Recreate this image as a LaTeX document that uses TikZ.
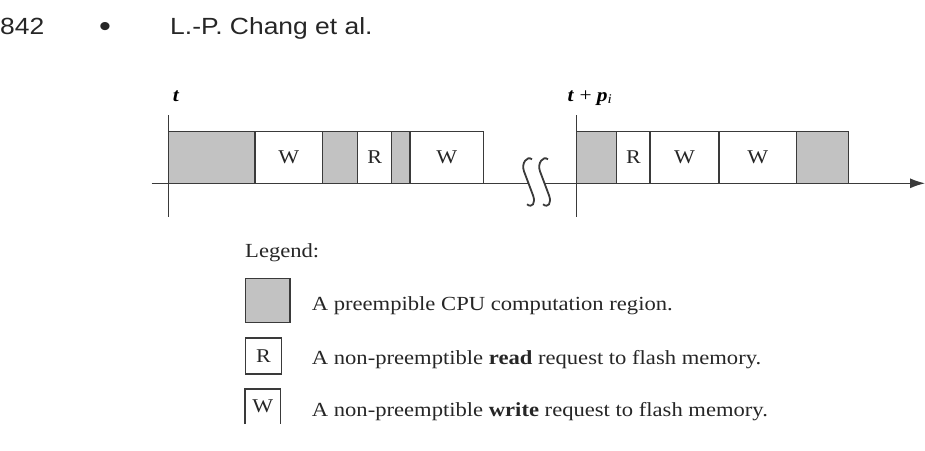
\documentclass[tikz,border=0pt]{standalone}
\usepackage{fontspec}
\setmainfont[FakeStretch=1.13]{Liberation Serif}
\newfontfamily\hdrfont[FakeStretch=1.13]{Liberation Sans}
\usetikzlibrary{arrows.meta}
\definecolor{lin}{HTML}{3A3A3A}
\definecolor{cpu}{HTML}{C2C2C2}
\tikzset{
  seg/.style={draw=lin, line width=1.2pt, inner sep=0pt, outer sep=0pt, anchor=south west, minimum height=51.6pt, font=\fontsize{19.5}{20}\selectfont, text=black!85},
  cpubox/.style={seg, fill=cpu},
  iobox/.style={seg, fill=white},
  axisline/.style={draw=lin, line width=1.2pt},
  legtext/.style={anchor=base west, inner sep=0pt, font=\fontsize{20}{22}\selectfont, text=black!85},
  hdr/.style={anchor=base west, inner sep=0pt, font=\hdrfont\fontsize{23.4}{24}\selectfont, text=black!85},
  brk/.pic={\draw[lin, line width=1.8pt] (3,-24) .. controls (-2,-28) and (-8,-20) .. (-5,-12) -- (4,12) .. controls (7,20) and (3,25) .. (-2,21);}
}
\begin{document}
\begin{tikzpicture}[x=1pt, y=-1pt]
\useasboundingbox (0,0) rectangle (925,450);
% header
\node[hdr] (pg) at (0,34) {842};
\node[hdr, anchor=base, font=\hdrfont\fontsize{30}{30}\selectfont] (bul) at (105,36) {•};
\node[hdr] (auth) at (170,34) {L.-P. Chang et al.};
% axis
\coordinate (a0) at (151.7,183.3);
\coordinate (b1) at (529,183.3);
\coordinate (b2) at (545,183.3);
\coordinate (aend) at (925,183.3);
\draw[axisline] (a0) -- (b1);
\draw[axisline, -{Latex[length=15pt,width=10pt]}] (b2) -- (aend);
\pic at (b1) {brk};
\pic at (b2) {brk};
% left group
\node[cpubox, minimum width=86.7pt] (g1) at (168.3,183.3) {};
\node[iobox, minimum width=67.7pt] (w1) at (255,183.3) {W};
\node[cpubox, minimum width=35pt] (g2) at (322.7,183.3) {};
\node[iobox, minimum width=34pt] (r1) at (357.7,183.3) {R};
\node[cpubox, minimum width=18.3pt] (g3) at (391.7,183.3) {};
\node[iobox, minimum width=73.3pt] (w2) at (410,183.3) {W};
% right group
\node[cpubox, minimum width=40pt] (g4) at (576.7,183.3) {};
\node[iobox, minimum width=33.3pt] (r2) at (616.7,183.3) {R};
\node[iobox, minimum width=69pt] (w3) at (650,183.3) {W};
\node[iobox, minimum width=77.7pt] (w4) at (719,183.3) {W};
\node[cpubox, minimum width=51.6pt] (g5) at (796.7,183.3) {};
% time markers
\coordinate (v1t) at (168.3,115);
\coordinate (v1b) at (168.3,217);
\coordinate (v2t) at (576.7,115);
\coordinate (v2b) at (576.7,217);
\draw[axisline] (v1t) -- (v1b);
\draw[axisline] (v2t) -- (v2b);
\node[anchor=base, inner sep=0pt, font=\fontsize{19}{20}\selectfont] (lt) at (176,101) {\textbf{\textit{t}}};
\node[anchor=base, inner sep=0pt, font=\fontsize{19}{20}\selectfont] (ltp) at (590,101) {\textbf{\textit{t}} + \textbf{\textit{p}}\textsubscript{\textit{i}}};
% legend
\node[legtext] (leg) at (245,257) {Legend:};
\node[draw=lin, fill=cpu, line width=1.2pt, minimum width=44.3pt, minimum height=43.7pt, inner sep=0pt, anchor=north west] (lg) at (245,278) {};
\node[draw=lin, line width=1.2pt, minimum width=35.5pt, minimum height=36pt, inner sep=0pt, anchor=north west, font=\fontsize{19.5}{20}\selectfont, text=black!85] (lr) at (245,337.3) {R};
\coordinate (lwbl) at (245,424);
\coordinate (lwtl) at (245,389);
\coordinate (lwtr) at (280.5,389);
\coordinate (lwbr) at (280.5,424);
\draw[draw=lin, line width=1.2pt] (lwbl) -- (lwtl) -- (lwtr) -- (lwbr);
\node[font=\fontsize{19.5}{20}\selectfont, inner sep=0pt, text=black!85] (lw) at (262.7,406) {W};
\node[legtext] (t1) at (311.7,310.5) {A preempible CPU computation region.};
\node[legtext] (t2) at (311.7,364) {A non-preemptible \textbf{read} request to flash memory.};
\node[legtext] (t3) at (311.7,416.5) {A non-preemptible \textbf{write} request to flash memory.};
\end{tikzpicture}
\end{document}
